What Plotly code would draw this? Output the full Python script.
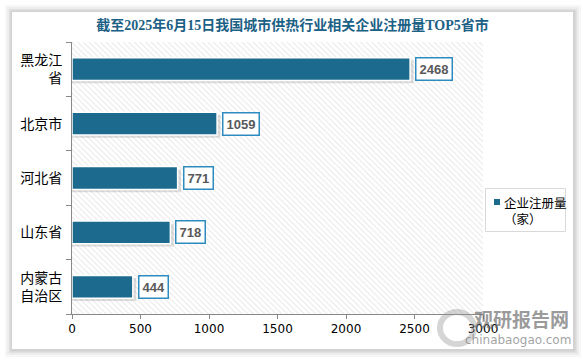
import plotly.graph_objects as go

categories = ["黑龙江<br>省", "北京市", "河北省", "山东省", "内蒙古<br>自治区"]
values = [2468, 1059, 771, 718, 444]
x_ticks = [0, 500, 1000, 1500, 2000, 2500, 3000]
series_name = "企业注册量<br>（家）"
title_text = "截至2025年6月15日我国城市供热行业相关企业注册量TOP5省市"
bar_color = "#1c6b8e"

W, H = 585, 360
ML, MR, MT, MB = 72, 102, 42, 46
PW, PH = W - ML - MR, H - MT - MB

def px_x(p):
    return (p - ML) / PW

def px_y(p):
    return (H - MB - p) / PH

idx = list(range(len(categories)))
XMAX = x_ticks[-1]

fig = go.Figure()

# hatched plot background
fig.add_trace(go.Bar(
    y=[(len(idx) - 1) / 2], x=[XMAX], base=0, width=[len(idx)], orientation="h",
    marker=dict(color="white", line=dict(width=0),
                pattern=dict(shape="\\", fgcolor="#cfcfcf", bgcolor="white", size=4, solidity=0.25)),
    showlegend=False, hoverinfo="skip"))

# bar shadows
fig.add_trace(go.Bar(
    y=[i + 0.05 for i in idx], x=[v + 25 for v in values], base=0, width=0.42, orientation="h",
    marker=dict(color="rgba(0,0,0,0.13)", line=dict(width=0)),
    showlegend=False, hoverinfo="skip"))

fig.add_trace(go.Bar(
    y=idx, x=values, orientation="h", width=0.42, name=series_name, showlegend=False,
    marker=dict(color=bar_color, line=dict(color="white", width=1.5))))

for i, v in zip(idx, values):
    fig.add_annotation(x=v, y=i, xref="x", yref="y", text=f"<b>{v}</b>", showarrow=False,
                       xanchor="left", xshift=5,
                       font=dict(family="Liberation Sans, Arial", size=13, color="#595959"),
                       bgcolor="white", bordercolor="#2e8bc0", borderwidth=1.5, borderpad=3)

# card with shadow
shapes = []
cx0, cx1, cy0, cy1 = 12, 573, 12, 349
for k, op in [(7, 0.03), (5, 0.04), (3, 0.05), (1.5, 0.06)]:
    shapes.append(dict(type="rect", xref="paper", yref="paper", layer="below",
                       x0=px_x(cx0 - k), x1=px_x(cx1 + k + 1), y0=px_y(cy1 + k + 1), y1=px_y(cy0 - k),
                       fillcolor=f"rgba(0,0,0,{op})", line=dict(width=0)))
shapes.append(dict(type="rect", xref="paper", yref="paper", layer="below",
                   x0=px_x(cx0), x1=px_x(cx1), y0=px_y(cy1), y1=px_y(cy0),
                   fillcolor="white", line=dict(width=0)))
# legend box + marker
shapes.append(dict(type="rect", xref="paper", yref="paper",
                   x0=px_x(485.5), x1=px_x(565.5), y0=px_y(231.5), y1=px_y(188.5),
                   fillcolor="white", line=dict(color="#d9d9d9", width=1)))
shapes.append(dict(type="rect", xref="paper", yref="paper",
                   x0=px_x(494), x1=px_x(500), y0=px_y(205), y1=px_y(199),
                   fillcolor=bar_color, line=dict(width=0)))
# watermark logo ring
shapes.append(dict(type="circle", xref="paper", yref="paper", layer="above",
                   x0=px_x(440), x1=px_x(474), y0=px_y(344), y1=px_y(312),
                   line=dict(color="rgba(150,150,150,0.4)", width=6)))

fig.add_annotation(x=px_x(502), y=px_y(210), xref="paper", yref="paper", showarrow=False,
                   xanchor="left", yanchor="middle", align="left", text=series_name,
                   font=dict(family="Noto Sans CJK SC", size=12.5, color="black"))

# watermark
fig.add_annotation(x=px_x(521), y=px_y(318), xref="paper", yref="paper", showarrow=False,
                   xanchor="center", yanchor="middle",
                   text="<b>观研报告网</b>", font=dict(family="Noto Sans CJK SC", size=19, color="rgba(110,110,110,0.7)"))
fig.add_annotation(x=px_x(518), y=px_y(340), xref="paper", yref="paper", showarrow=False,
                   xanchor="center", yanchor="middle",
                   text="chinabaogao.com", font=dict(family="DejaVu Sans", size=12, color="rgba(120,120,120,0.7)"))

fig.update_layout(
    width=W, height=H,
    margin=dict(l=ML, r=MR, t=MT, b=MB, autoexpand=False),
    paper_bgcolor="white", plot_bgcolor="white",
    barmode="overlay", shapes=shapes, showlegend=False,
    title=dict(text=f"<b>{title_text}</b>", x=0.5, xref="container", xanchor="center",
               y=1 - 25 / H, yref="container", yanchor="middle",
               font=dict(family="Liberation Serif, Noto Sans CJK SC", size=14, color="#1b6185")),
    font=dict(family="Noto Sans CJK SC", color="black"),
    xaxis=dict(range=[0, XMAX], tickvals=x_ticks, ticks="outside", ticklen=4, tickcolor="#888",
               showline=True, linecolor="#888", linewidth=1, showgrid=False, zeroline=False,
               automargin=False,
               tickfont=dict(family="DejaVu Sans", size=12, color="black")),
    yaxis=dict(range=[len(idx) - 0.5, -0.5], tickvals=idx, ticktext=categories, ticks="",
               showline=True, linecolor="#888", linewidth=1, showgrid=False, zeroline=False,
               automargin=False, ticklabelstandoff=6,
               tickfont=dict(family="Noto Sans CJK SC", size=14, color="black"),
               minor=dict(tick0=-0.5, dtick=1, ticks="outside", ticklen=5, tickcolor="#888", showgrid=False)),
)

fig.write_html("out.html", config={"displayModeBar": False},
               post_script="document.body.style.margin='0';document.body.style.overflow='hidden';")
